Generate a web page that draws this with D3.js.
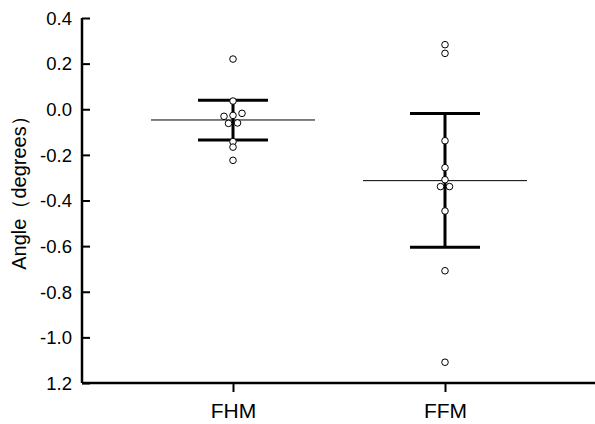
<!DOCTYPE html>
<html>
<head>
<meta charset="utf-8">
<script src="https://cdn.jsdelivr.net/npm/d3@7"></script>
<style>
  body { margin: 0; background: #fff; }
  text { font-family: "Liberation Sans", Arial, sans-serif; fill: #000; }
</style>
</head>
<body>
<div id="chart"></div>
<script>
// groups and values
var groups = ["FHM", "FFM"];
var fhmValues = [0.22, 0.036, -0.031, -0.027, -0.018, -0.062, -0.06, -0.142, -0.166, -0.224];
var fhmDodge  = [0, 0, -1, 0, 1, -0.5, 0.5, 0, 0, 0];
var ffmValues = [0.283, 0.245, -0.138, -0.256, -0.309, -0.339, -0.339, -0.446, -0.708, -1.109];
var ffmDodge  = [0, 0, 0, 0, 0, -0.5, 0.5, 0, 0, 0];
var means = [-0.047, -0.313];
var upper = [0.039, -0.019];
var lower = [-0.135, -0.605];
var yTicks = [0.4, 0.2, 0.0, -0.2, -0.4, -0.6, -0.8, -1.0, -1.2];
var yTickLabels = ["0.4", "0.2", "0.0", "-0.2", "-0.4", "-0.6", "-0.8", "-1.0", "1.2"];

var width = 595, height = 424;
var svg = d3.select("#chart").append("svg")
  .attr("width", width)
  .attr("height", height);

var x = d3.scalePoint()
  .domain(groups)
  .range([233, 445]);

var y = d3.scaleLinear()
  .domain([-1.2, 0.4])
  .range([383, 18]);

// y axis
var yAxis = svg.append("g")
  .attr("transform", "translate(82,0)")
  .call(d3.axisRight(y).tickValues(yTicks).tickSize(8)
    .tickFormat(function(d, i) { return yTickLabels[i]; }));
yAxis.select(".domain").attr("stroke", "#000").attr("stroke-width", 2.5).attr("d", "M0," + y(0.4) + "V" + y(-1.2));
yAxis.selectAll(".tick line").attr("stroke", "#000").attr("stroke-width", 2);
yAxis.selectAll(".tick text")
  .attr("x", -10)
  .attr("dy", "0.34em")
  .attr("text-anchor", "end")
  .style("font-size", "18.5px");

// x axis
var xAxis = svg.append("g")
  .attr("transform", "translate(0," + y(-1.2) + ")")
  .call(d3.axisBottom(x).tickSize(9));
xAxis.select(".domain").attr("stroke", "#000").attr("stroke-width", 2.5).attr("d", "M82,0H" + width);
xAxis.selectAll(".tick line").attr("stroke", "#000").attr("stroke-width", 2);
xAxis.selectAll(".tick text")
  .attr("y", 20)
  .style("font-size", "21px");

// y label
svg.append("text")
  .attr("transform", "translate(26,188) rotate(-90)")
  .attr("text-anchor", "middle")
  .style("font-size", "20px")
  .text("Angle（degrees）");

var halfMean = 82, halfCap = 35, dodgeStep = 9;
var allValues = [fhmValues, ffmValues];
var allDodge = [fhmDodge, ffmDodge];

groups.forEach(function(g, i) {
  var cx = x(g);
  // mean line
  svg.append("line")
    .attr("x1", cx - halfMean).attr("x2", cx + halfMean)
    .attr("y1", y(means[i])).attr("y2", y(means[i]))
    .attr("stroke", "#000").attr("stroke-width", 1);
  // error bar
  svg.append("line")
    .attr("x1", cx).attr("x2", cx)
    .attr("y1", y(upper[i])).attr("y2", y(lower[i]))
    .attr("stroke", "#000").attr("stroke-width", 3);
  [upper[i], lower[i]].forEach(function(v) {
    svg.append("line")
      .attr("x1", cx - halfCap).attr("x2", cx + halfCap)
      .attr("y1", y(v)).attr("y2", y(v))
      .attr("stroke", "#000").attr("stroke-width", 3);
  });
  // points
  svg.append("g").selectAll("circle")
    .data(allValues[i])
    .enter().append("circle")
    .attr("cx", function(d, j) { return cx + allDodge[i][j] * dodgeStep; })
    .attr("cy", function(d) { return y(d); })
    .attr("r", 3.3)
    .attr("fill", "#fff")
    .attr("stroke", "#000")
    .attr("stroke-width", 1);
});
</script>
</body>
</html>
